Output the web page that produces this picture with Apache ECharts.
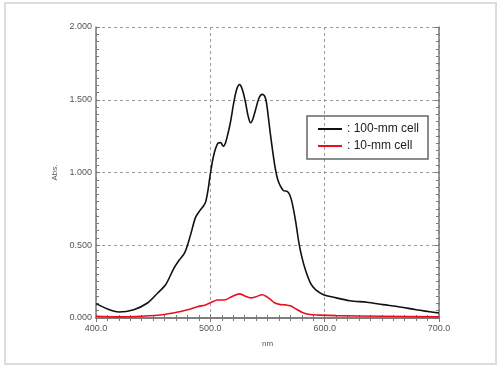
<!DOCTYPE html>
<html><head><meta charset="utf-8">
<script src="https://cdn.jsdelivr.net/npm/echarts@6/dist/echarts.min.js"></script>
<style>html,body{margin:0;padding:0;background:#fff}#c{width:500px;height:371px}</style>
</head><body><div id="c"></div>
<script>
const xTicks = ['400.0','500.0','600.0','700.0'];
const nm100 = [400,413,420,433,445,454,461,468,473,477,480,483,487,491,494,496,498,500,503,506.5,509,511.3,513.3,515.5,517.7,520.5,523,525.5,528,530.8,533,535.2,537.3,539.5,542.5,545.3,547.5,549.1,552.6,555,557,559,561.4,564,567.2,569.5,571.6,574.5,577.4,580,583.2,587.6,592,599,608,622,637,651,666,680,700];
const abs100 = [0.099,0.053,0.041,0.057,0.103,0.172,0.23,0.34,0.40,0.44,0.50,0.58,0.69,0.74,0.77,0.80,0.88,0.99,1.12,1.20,1.205,1.18,1.205,1.27,1.35,1.48,1.57,1.604,1.57,1.48,1.39,1.342,1.37,1.43,1.51,1.537,1.525,1.48,1.26,1.12,1.02,0.95,0.905,0.875,0.87,0.845,0.79,0.67,0.52,0.42,0.33,0.24,0.195,0.16,0.142,0.119,0.108,0.092,0.076,0.057,0.034];
const nm10 = [400,420,440,460,474,482,488.6,495.8,501,506,510,513.3,519,525.5,530,535.2,540,545.3,549,552.6,556,561.4,566,570,575,580,587,595,610,650,700];
const abs10 = [0.012,0.008,0.012,0.024,0.045,0.06,0.078,0.09,0.108,0.124,0.124,0.126,0.148,0.166,0.152,0.138,0.146,0.16,0.148,0.128,0.105,0.092,0.09,0.084,0.062,0.04,0.024,0.02,0.016,0.012,0.008];
const names = ['100-mm cell','10-mm cell'];

const pairs = (xs, ys) => xs.map((x,i)=>[x, ys[i]]);
const chart = echarts.init(document.getElementById('c'));
const font = 'Liberation Sans';
const tickCommon = {
  axisLine:{show:true,lineStyle:{color:'#7a7a7a',width:1.5}},
  axisTick:{show:true,inside:true,length:4,lineStyle:{color:'#7a7a7a'}},
  minorTick:{show:true,splitNumber:10,length:3,lineStyle:{color:'#7a7a7a'}}
};
chart.setOption({
  animation:false,
  textStyle:{fontFamily:font},
  graphic:[{type:'rect',shape:{x:5,y:3,width:491,height:361},style:{fill:'none',stroke:'#dcdcdc',lineWidth:2}}],
  grid:{left:96,right:61,top:27,bottom:53},
  legend:{
    left:307, top:116, orient:'vertical', data:names,
    formatter: n => ': ' + n,
    icon:'rect', itemWidth:24, itemHeight:2, itemGap:5,
    borderColor:'#666', borderWidth:1.5, padding:[7,9,7,11],
    textStyle:{fontSize:12,color:'#222',fontFamily:font}
  },
  xAxis:[
    Object.assign({type:'value',min:400,max:700,interval:100,position:'bottom',
      name:'nm',nameLocation:'middle',nameGap:22,nameTextStyle:{fontSize:8,color:'#555'},
      axisLabel:{fontSize:9,color:'#555',margin:6,formatter:(v)=>xTicks[Math.round((v-400)/100)]},
      splitLine:{show:true,lineStyle:{color:'#9a9a9a',type:[3,3],width:1}}}, tickCommon),
    Object.assign({type:'value',min:400,max:700,interval:100,position:'top',
      axisLabel:{show:false},splitLine:{show:false}}, tickCommon)
  ],
  yAxis:[
    Object.assign({type:'value',min:0,max:2,interval:0.5,position:'left',
      name:'Abs.',nameLocation:'middle',nameGap:35,nameRotate:90,nameTextStyle:{fontSize:8,color:'#555'},
      axisLabel:{fontSize:9,color:'#555',margin:4,formatter:(v)=>v.toFixed(3)},
      splitLine:{show:true,lineStyle:{color:'#9a9a9a',type:[3,3],width:1}}}, tickCommon),
    Object.assign({type:'value',min:0,max:2,interval:0.5,position:'right',
      axisLabel:{show:false},splitLine:{show:false}}, tickCommon)
  ],
  series:[
    {name:names[0],type:'line',data:pairs(nm100,abs100),smooth:0.3,showSymbol:false,
     lineStyle:{color:'#111',width:1.6},itemStyle:{color:'#111'},z:3},
    {name:names[1],type:'line',data:pairs(nm10,abs10),smooth:0.3,showSymbol:false,
     lineStyle:{color:'#e8101e',width:1.6},itemStyle:{color:'#e8101e'},z:4}
  ]
});
</script></body></html>
